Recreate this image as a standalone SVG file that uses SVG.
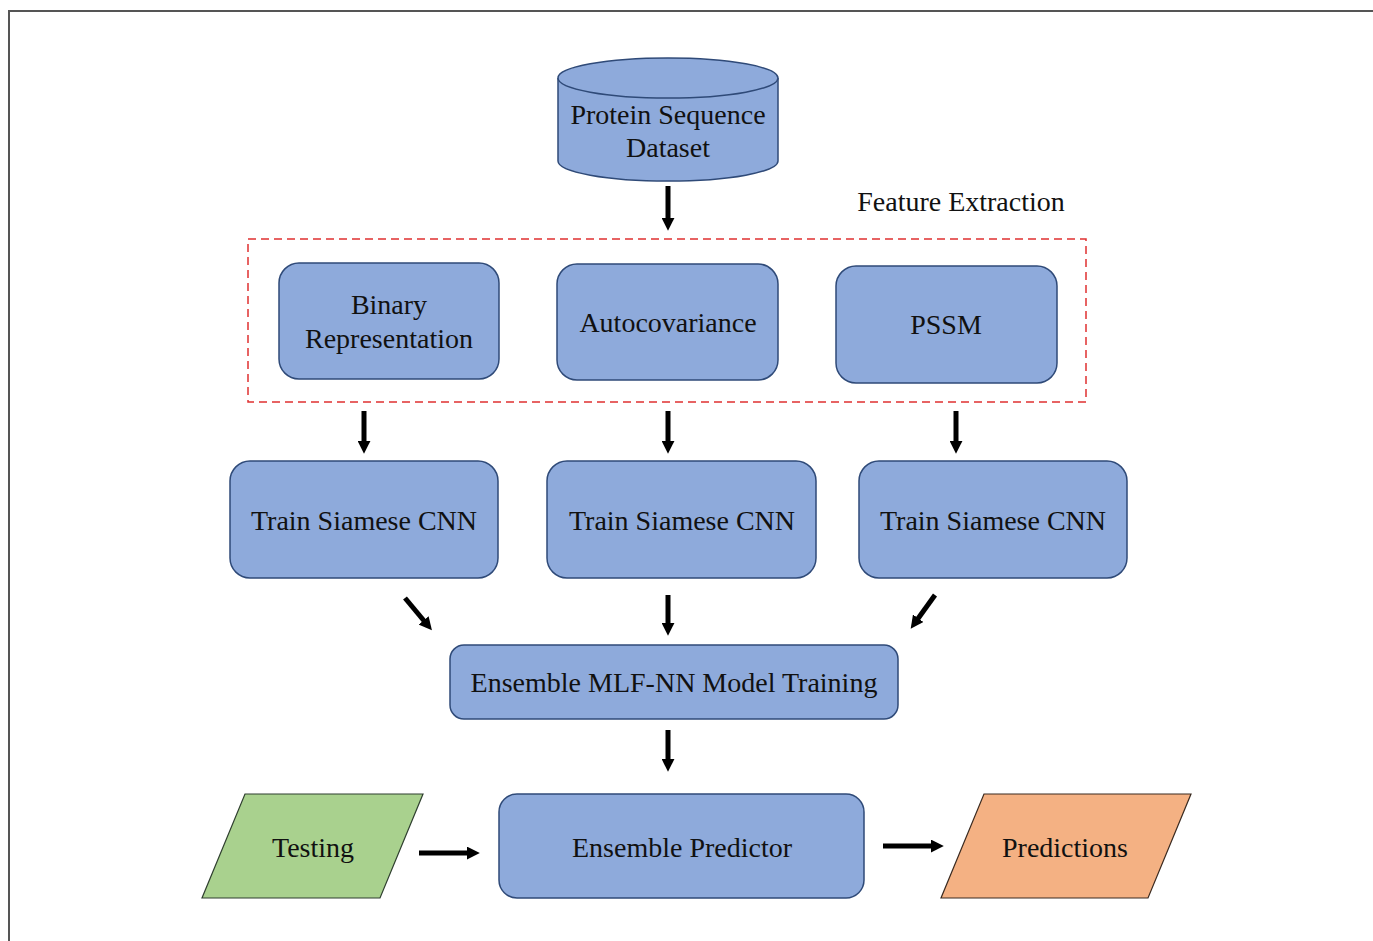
<svg xmlns="http://www.w3.org/2000/svg" width="1373" height="941" viewBox="0 0 1373 941">
<defs>
<style>
.n{fill:#8eaadb;stroke:#2f4a78;stroke-width:1.5}
.t{font-family:"Liberation Serif","Times New Roman",serif;font-size:28px;fill:#111;text-anchor:middle}
.a{stroke:#000;stroke-width:5;fill:none;marker-end:url(#ah)}
</style>
<marker id="ah" markerUnits="userSpaceOnUse" viewBox="0 0 12 12" refX="2" refY="6" markerWidth="13" markerHeight="13" orient="auto">
<path d="M0,0 L12,6 L0,12 Z" fill="#000"/>
</marker>
</defs>
<rect width="1373" height="941" fill="#fff"/>
<path d="M9,941 V11 H1373" fill="none" stroke="#555" stroke-width="2"/>

<g id="dataset">
<path class="n" d="M558,78 V161 A110,20 0 0 0 778,161 V78"/>
<ellipse class="n" cx="668" cy="78" rx="110" ry="20"/>
<text class="t" x="668" y="124">Protein Sequence</text>
<text class="t" x="668" y="157">Dataset</text>
</g>

<g id="feature-extraction">
<text class="t" x="961" y="211" font-size="27">Feature Extraction</text>
<rect x="248" y="239" width="838" height="163" fill="none" stroke="#e03030" stroke-width="1.5" stroke-dasharray="8,5"/>
</g>

<g id="binary">
<rect class="n" x="279" y="263" width="220" height="116" rx="20"/>
<text class="t" x="389" y="314">Binary</text>
<text class="t" x="389" y="348">Representation</text>
</g>
<g id="autocov">
<rect class="n" x="557" y="264" width="221" height="116" rx="20"/>
<text class="t" x="668" y="332">Autocovariance</text>
</g>
<g id="pssm">
<rect class="n" x="836" y="266" width="221" height="117" rx="20"/>
<text class="t" x="946" y="334">PSSM</text>
</g>

<g id="cnn1">
<rect class="n" x="230" y="461" width="268" height="117" rx="20"/>
<text class="t" x="364" y="530">Train Siamese CNN</text>
</g>
<g id="cnn2">
<rect class="n" x="547" y="461" width="269" height="117" rx="20"/>
<text class="t" x="682" y="530">Train Siamese CNN</text>
</g>
<g id="cnn3">
<rect class="n" x="859" y="461" width="268" height="117" rx="20"/>
<text class="t" x="993" y="530">Train Siamese CNN</text>
</g>

<g id="mlf">
<rect class="n" x="450" y="645" width="448" height="74" rx="14"/>
<text class="t" x="674" y="692">Ensemble MLF-NN Model Training</text>
</g>

<g id="predictor">
<rect class="n" x="499" y="794" width="365" height="104" rx="18"/>
<text class="t" x="682" y="857">Ensemble Predictor</text>
</g>

<g id="testing">
<polygon points="245,794 423,794 380,898 202,898" fill="#a9d18e" stroke="#2f3f2f" stroke-width="1.2"/>
<text class="t" x="313" y="857">Testing</text>
</g>

<g id="predictions">
<polygon points="984,794 1191,794 1148,898 941,898" fill="#f4b183" stroke="#3a2a20" stroke-width="1.2"/>
<text class="t" x="1065" y="857">Predictions</text>
</g>

<g id="connectors">
<line class="a" x1="668" y1="186" x2="668" y2="220"/>
<line class="a" x1="364" y1="411" x2="364" y2="443"/>
<line class="a" x1="668" y1="411" x2="668" y2="443"/>
<line class="a" x1="956" y1="411" x2="956" y2="443"/>
<line class="a" x1="405" y1="598" x2="425" y2="622"/>
<line class="a" x1="668" y1="595" x2="668" y2="625"/>
<line class="a" x1="935" y1="595" x2="917" y2="620"/>
<line class="a" x1="668" y1="730" x2="668" y2="761"/>
<line class="a" x1="419" y1="853" x2="469" y2="853"/>
<line class="a" x1="883" y1="846" x2="933" y2="846"/>
</g>
</svg>
